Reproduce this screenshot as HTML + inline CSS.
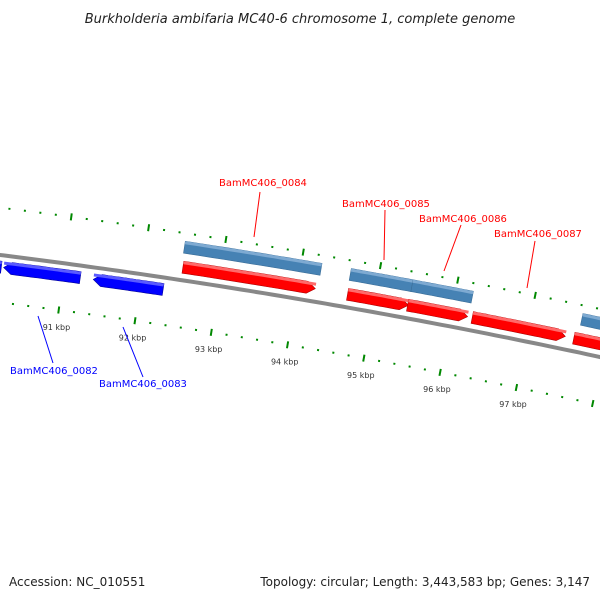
<!DOCTYPE html>
<html><head><meta charset="utf-8"><style>
body{margin:0;background:#fff}
svg{display:block;font-family:"DejaVu Sans","Liberation Sans",sans-serif}
</style></head><body>
<svg id="map" width="600" height="600" viewBox="0 0 600 600">
<text x="300" y="23" text-anchor="middle" font-size="13" font-style="italic" fill="#222">Burkholderia ambifaria MC40-6 chromosome 1, complete genome</text>
<g id="ticks"></g>
<path id="backbone" fill="none" stroke="#888" stroke-width="4"></path>
<g id="genes"></g>
<g id="labels"></g>
<text x="9" y="586" font-size="12" fill="#222">Accession: NC_010551</text>
<text x="590" y="586" text-anchor="end" font-size="12" fill="#222">Topology: circular; Length: 3,443,583 bp; Genes: 3,147</text>
</svg>
<script>
const tickLabels = [91, 92, 93, 94, 95, 96, 97];
const geneNames = ["", "BamMC406_0082", "BamMC406_0083", "BamMC406_0084", "BamMC406_0085", "BamMC406_0086", "BamMC406_0087", ""];
const geneStarts = [89.9, 90.22, 91.39, 92.51, 94.65, 95.43, 96.27, 97.59];
const geneEnds = [90.19, 91.22, 92.30, 94.23, 95.44, 96.21, 97.48, 98.6];
const geneStrands = [-1, -1, -1, 1, 1, 1, 1, 1];
const cdsStarts = [92.49, 94.64, 95.44, 97.64];
const cdsEnds = [94.26, 95.44, 96.22, 98.6];

const NS = "http://www.w3.org/2000/svg";
function xOf(k){ return 65 + (k - 91) * 76.8; }
function f(x){ return 255 + 0.125*x + 0.000075*x*x; }
function pt(k, d){
  const x = xOf(k), y = f(x), th = Math.atan(0.125 + 0.00015*x);
  return [x - d*Math.sin(th), y + d*Math.cos(th)];
}
function mk(tag, attrs, parent){
  const e = document.createElementNS(NS, tag);
  for (const a in attrs) e.setAttribute(a, attrs[a]);
  parent.appendChild(e); return e;
}
// backbone
let bp = "";
for (let k = 89.9; k <= 99; k += 0.1){ const p = pt(k, 0); bp += (bp ? "L" : "M") + p[0].toFixed(1) + " " + p[1].toFixed(1); }
document.getElementById("backbone").setAttribute("d", bp);
// ticks
const tg = document.getElementById("ticks");
for (let i = -10; i <= 55; i++){
  const k = 90 + i * 0.2, major = i % 5 === 0;
  for (const r of [47, -47]){
    const a = pt(k, r - (major ? 3.5 : 1)), b = pt(k, r + (major ? 3.5 : 1));
    const ln = mk("line", {x1:a[0], y1:a[1], x2:b[0], y2:b[1], stroke:"#080", "stroke-width":2}, tg);
    
    
  }
}
tickLabels.forEach(v => {
  const p = pt(v, 64);
  const t = mk("text", {x:p[0], y:p[1]+3, "text-anchor":"middle", "font-size":8, fill:"#333"}, tg);
  t.textContent = v + " kbp";
  
  
});
// gene shapes
function band(k1, k2, d1, d2, dir, arrow){
  const ah = arrow ? 8/76.8 : 0;
  const top = [], bot = [];
  const a = dir > 0 ? k1 : k1 + ah, b = dir > 0 ? k2 - ah : k2;
  const n = 20;
  for (let i = 0; i <= n; i++){ const k = a + (b - a) * i / n; top.push(pt(k, d1)); bot.push(pt(k, d2)); }
  let pts = [];
  if (dir > 0){ pts = top.concat(arrow ? [pt(k2, (d1+d2)/2)] : [], bot.reverse()); }
  else { pts = (arrow ? [pt(k1, (d1+d2)/2)] : []).concat(top, bot.reverse()); }
  return pts.map(p => p[0].toFixed(1) + "," + p[1].toFixed(1)).join(" ");
}
const gg = document.getElementById("genes");
cdsStarts.forEach((s, i) => {
  const pg = mk("polygon", {points: band(s, cdsEnds[i], -39, -27, 1, false), fill:"#4682b4", stroke:"#3a6e99", "stroke-width":0.6}, gg);
  
  
  const hl = mk("polygon", {points: band(s, cdsEnds[i], -39, -36, 1, false), fill:"#7eaad2"}, gg);
  
  
});
geneStarts.forEach((s, i) => {
  const dir = geneStrands[i];
  const d1 = dir > 0 ? -19 : 6, d2 = dir > 0 ? -7 : 18;
  const col = dir > 0 ? "#ff0000" : "#0000ff", dk = dir > 0 ? "#b00000" : "#00009a", lt = dir > 0 ? "#ff6a6a" : "#5a5aff";
  const pg = mk("polygon", {points: band(s, geneEnds[i], d1, d2, dir, true), fill:col, stroke:dk, "stroke-width":0.6}, gg);
  
  
  const hl = mk("polygon", {points: band(s, geneEnds[i], d1, d1 + 3, dir, false), fill:lt}, gg);
  
  
});
// labels
const lg = document.getElementById("labels");
const labelSpecs = [
  ["BamMC406_0082", 54, 374, 38, 316, 53, 363, "#0000ff"],
  ["BamMC406_0083", 143, 387, 123, 327, 143, 377, "#0000ff"],
  ["BamMC406_0084", 263, 186, 260, 192, 254, 237, "#ff0000"],
  ["BamMC406_0085", 386, 207, 385, 210, 384, 260, "#ff0000"],
  ["BamMC406_0086", 463, 222, 461, 225, 444, 271, "#ff0000"],
  ["BamMC406_0087", 538, 237, 535, 241, 527, 288, "#ff0000"]
];
labelSpecs.forEach(s => {
  const ln = mk("line", {x1:s[3], y1:s[4], x2:s[5], y2:s[6], stroke:s[7], "stroke-width":1}, lg);
  
  
  const t = mk("text", {x:s[1], y:s[2], "text-anchor":"middle", "font-size":10, fill:s[7]}, lg);
  t.textContent = s[0];
  
  
});
</script>
</body></html>
